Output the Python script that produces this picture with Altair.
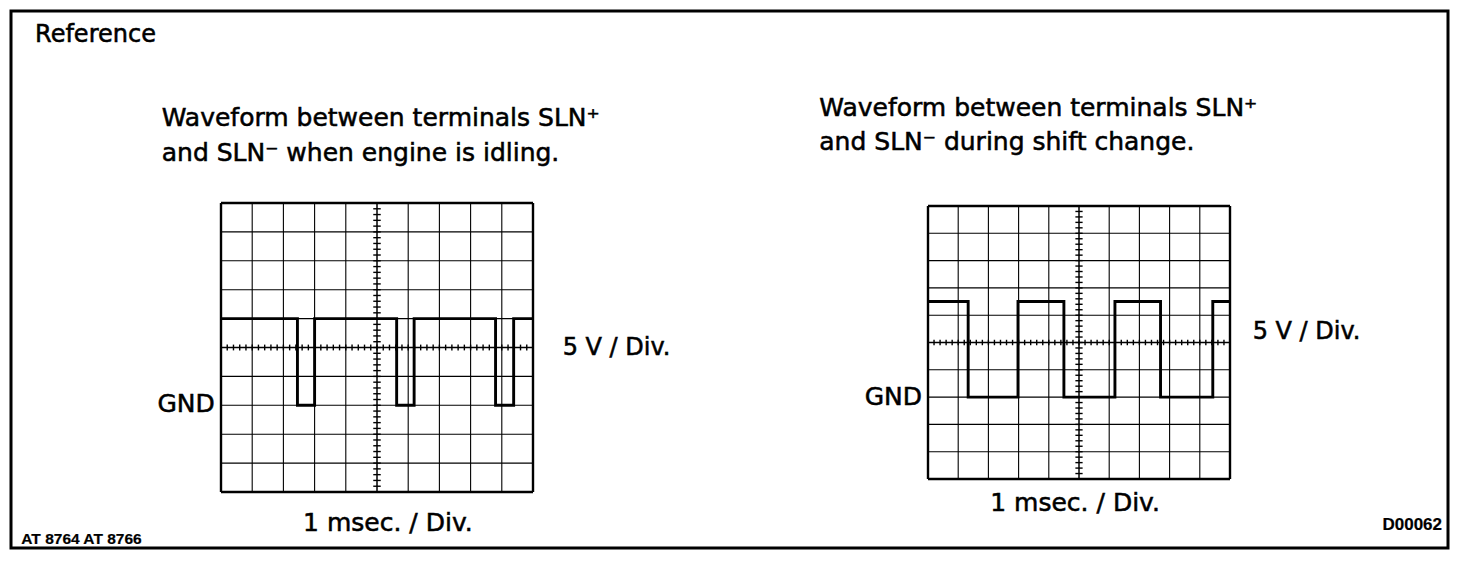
import altair as alt
import pandas as pd

# ---------------- data (values in oscilloscope divisions) ----------------
# Idling waveform: edge times (div) and level (div, 0 = screen centre line)
idle_t = [0.0, 2.45, 3.0, 5.63, 6.19, 8.8, 9.38, 10.0]
idle_v = [1.0, -2.0, 1.0, -2.0, 1.0, -2.0, 1.0, 1.0]
# Shift-change waveform
shift_t = [0.0, 1.33, 2.98, 4.5, 6.19, 7.7, 9.43, 10.0]
shift_v = [1.5, -2.0, 1.5, -2.0, 1.5, -2.0, 1.5, 1.5]

grid_cols = list(range(0, 11))      # vertical graticule lines (div)
grid_rows = list(range(-5, 6))      # horizontal graticule lines (div)

title_left = ["Waveform between terminals SLN\u207a", "and SLN\u207b when engine is idling."]
title_right = ["Waveform between terminals SLN\u207a", "and SLN\u207b during shift change."]
gnd_label = "GND"
volt_label = "5 V / Div."
time_label = "1 msec. / Div."
ref_label = "Reference"
code_left = "AT 8764 AT 8766"
code_right = "D00062"

# ---------------- layout ----------------
W, H = 1437, 537
OX, OY = 11, 11
FONT = "DejaVu Sans"


def xdom(p0, p1, v0=0.0, v1=10.0):
    p0 -= OX
    p1 -= OX
    k = (v1 - v0) / (p1 - p0)
    d0 = v0 - p0 * k
    return [d0, d0 + W * k]


def ydom(p_top, p_bot, v_top=5.0, v_bot=-5.0):
    p_top -= OY
    p_bot -= OY
    k = (v_top - v_bot) / (p_bot - p_top)
    d1 = v_top + p_top * k
    return [d1 - H * k, d1]


def panel(times, levels, xd, yd, annotations):
    sx = alt.Scale(domain=xd, nice=False, zero=False)
    sy = alt.Scale(domain=yd, nice=False, zero=False)

    rows = []
    for c in grid_cols:
        w = 2.4 if c in (0, 10) else (1.5 if c == 5 else 1.1)
        rows.append(dict(x=c, x2=c, y=-5, y2=5, w=w))
    for r in grid_rows:
        w = 2.4 if r in (-5, 5) else (1.5 if r == 0 else 1.1)
        rows.append(dict(x=0, x2=10, y=r, y2=r, w=w))
    # small subdivision ticks on the centre lines
    for k in range(1, 50):
        p = k * 0.2
        rows.append(dict(x=p, x2=p, y=-0.1, y2=0.1, w=1.4))
        q = -5 + k * 0.2
        rows.append(dict(x=4.88, x2=5.12, y=q, y2=q, w=1.4))
    gdf = pd.DataFrame(rows)

    grid = alt.Chart(gdf).mark_rule(color="black").encode(
        x=alt.X("x:Q", scale=sx, axis=None),
        x2="x2:Q",
        y=alt.Y("y:Q", scale=sy, axis=None),
        y2="y2:Q",
        strokeWidth=alt.StrokeWidth("w:Q", scale=None),
    )

    wdf = pd.DataFrame({"t": times, "v": levels})
    wave = alt.Chart(wdf).mark_line(
        color="black", strokeWidth=2.9, interpolate="step-after"
    ).encode(
        x=alt.X("t:Q", scale=sx, axis=None),
        y=alt.Y("v:Q", scale=sy, axis=None),
    )

    layers = [grid, wave]
    for text, ax, ay, align, size, weight in annotations:
        tdf = pd.DataFrame({"x": [ax], "y": [ay], "label": [text]})
        is_code = weight == "bold"
        layers.append(
            alt.Chart(tdf).mark_text(
                align=align, baseline="middle",
                font="Liberation Sans" if is_code else FONT,
                fontSize=size, fontWeight=weight, color="black",
                stroke="black", strokeWidth=0.2 if is_code else 0.55,
            ).encode(
                x=alt.X("x:Q", scale=sx, axis=None),
                y=alt.Y("y:Q", scale=sy, axis=None),
                text="label:N",
            )
        )
    return alt.layer(*layers)


left_ann = [
    (ref_label, -5.96, 10.8, "left", 24, "normal"),
    (title_left[0], -1.9, 7.95, "left", 25, "normal"),
    (title_left[1], -1.9, 6.74, "left", 25, "normal"),
    (gnd_label, -0.2, -1.95, "right", 25, "normal"),
    (volt_label, 10.95, 0.0, "left", 24, "normal"),
    (time_label, 5.35, -6.07, "center", 25, "normal"),
    (code_left, -6.4, -6.63, "left", 15.5, "bold"),
]
right_ann = [
    (title_right[0], -3.6, 8.6, "left", 25, "normal"),
    (title_right[1], -3.6, 7.33, "left", 25, "normal"),
    (gnd_label, -0.2, -2.0, "right", 25, "normal"),
    (volt_label, 10.75, 0.4, "left", 24, "normal"),
    (time_label, 4.87, -5.88, "center", 25, "normal"),
    (code_right, 17.02, -6.7, "right", 17, "bold"),
]

left = panel(idle_t, idle_v, xdom(221, 533), ydom(203, 492), left_ann)
right = panel(shift_t, shift_v, xdom(928, 1230), ydom(206, 479), right_ann)

chart = alt.layer(left, right).resolve_scale(
    x="independent", y="independent"
).properties(
    width=W, height=H,
    padding={"left": 3, "top": 3, "right": 3, "bottom": 3},
    autosize=alt.AutoSizeParams(type="none"),
    background="white",
).configure_view(stroke="black", strokeWidth=3)

chart.save("out.html", embed_options={"renderer": "svg", "actions": False})
